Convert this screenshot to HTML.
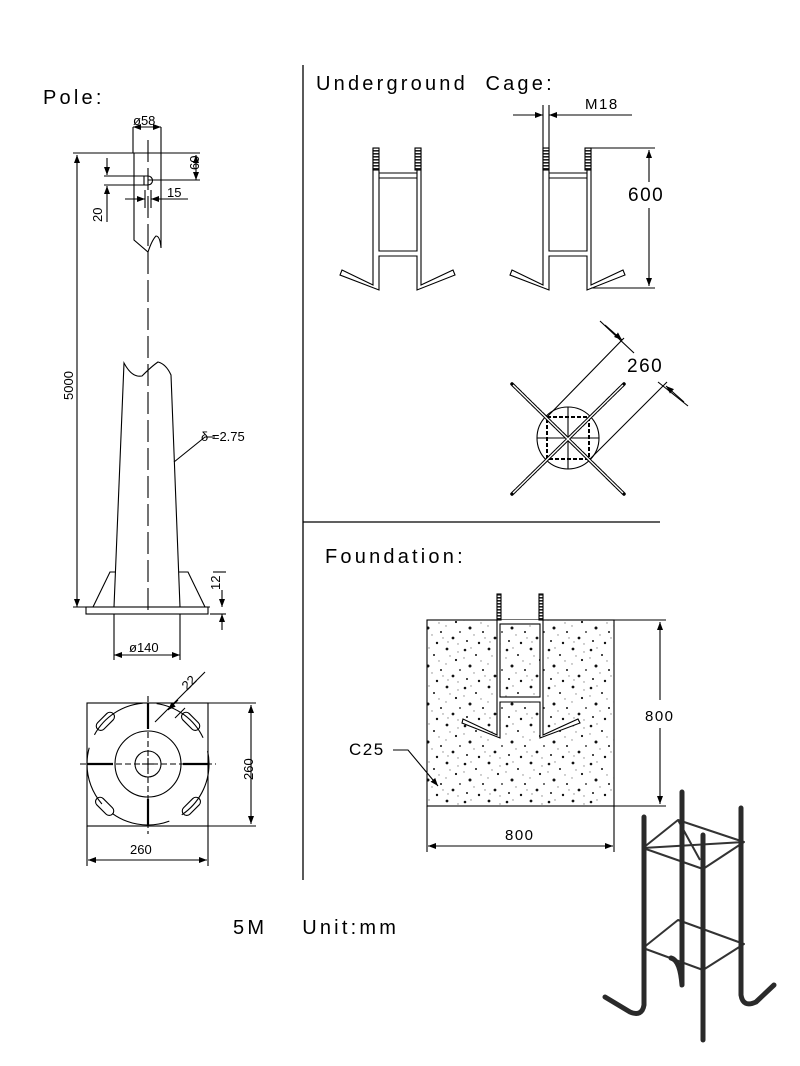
<!DOCTYPE html>
<html><head><meta charset="utf-8"><style>html,body{margin:0;padding:0;background:#fff}svg{display:block}</style></head>
<body>
<svg width="800" height="1066" viewBox="0 0 800 1066" xmlns="http://www.w3.org/2000/svg" font-family="Liberation Sans, sans-serif">
<defs>
<pattern id="conc" width="42" height="38" patternUnits="userSpaceOnUse">
<g fill="#111">
<circle cx="3" cy="4" r="1.3"/><circle cx="14" cy="9" r="1"/><circle cx="27" cy="3" r="1.4"/><circle cx="36" cy="14" r="1.1"/><circle cx="8" cy="20" r="1.5"/><circle cx="21" cy="24" r="1"/><circle cx="33" cy="30" r="1.4"/><circle cx="5" cy="33" r="1"/><circle cx="17" cy="35" r="1.2"/><circle cx="40" cy="24" r="0.9"/>
</g>
<g fill="#888">
<circle cx="9" cy="2" r="0.7"/><circle cx="19" cy="15" r="0.7"/><circle cx="30" cy="10" r="0.7"/><circle cx="2" cy="12" r="0.7"/><circle cx="12" cy="27" r="0.7"/><circle cx="26" cy="18" r="0.7"/><circle cx="38" cy="6" r="0.7"/><circle cx="28" cy="34" r="0.7"/><circle cx="38" cy="36" r="0.7"/><circle cx="23" cy="30" r="0.7"/>
</g>
</pattern>
<pattern id="thr" width="6" height="3" patternUnits="userSpaceOnUse">
<rect width="6" height="3" fill="#fff"/><rect width="6" height="1.6" fill="#222"/>
</pattern>
<marker id="ar" markerWidth="8" markerHeight="6" refX="8" refY="3" orient="auto" markerUnits="userSpaceOnUse"><path d="M0,0 L8,3 L0,6z" fill="#000"/></marker>
<marker id="al" markerWidth="8" markerHeight="6" refX="0" refY="3" orient="auto" markerUnits="userSpaceOnUse"><path d="M8,0 L0,3 L8,6z" fill="#000"/></marker>
</defs>
<g stroke="#000" fill="none" stroke-width="1.1">
<line x1="303" y1="65" x2="303" y2="880" stroke-width="1.3"/>
<line x1="303" y1="522" x2="660" y2="522" stroke-width="1.3"/>

<!-- POLE -->
<line x1="148" y1="140" x2="148" y2="615" stroke-dasharray="22,6"/>
<path d="M134,153 L134,240 L148,252 Q152,240 156,236 Q160,236 161,248 L161,153"/>
<line x1="73" y1="153" x2="200" y2="153"/>
<line x1="133" y1="127" x2="133" y2="153"/><line x1="161" y1="127" x2="161" y2="153"/>
<line x1="133" y1="127" x2="161" y2="127" marker-start="url(#al)" marker-end="url(#ar)"/>
<line x1="77" y1="155" x2="77" y2="607" marker-start="url(#al)" marker-end="url(#ar)"/>
<line x1="104" y1="176" x2="148" y2="176"/><line x1="104" y1="185" x2="148" y2="185"/>
<path d="M144,176 L148,176 A4.5,4.5 0 0 1 148,185 L144,185z"/>
<line x1="148" y1="180" x2="200" y2="180"/>
<line x1="196" y1="155" x2="196" y2="180" marker-start="url(#al)" marker-end="url(#ar)"/>
<line x1="107" y1="158" x2="107" y2="175" marker-end="url(#ar)"/>
<line x1="107" y1="186" x2="107" y2="222" marker-start="url(#al)"/>
<line x1="125" y1="199" x2="145" y2="199" marker-end="url(#ar)"/>
<line x1="151" y1="199" x2="188" y2="199" marker-start="url(#al)"/>
<line x1="145" y1="190" x2="145" y2="208"/><line x1="151" y1="190" x2="151" y2="208"/>
<path d="M114,607 L124,363 Q132,378 142,376 Q152,366 158,362 Q166,364 171,375 L180,607"/>
<path d="M93,607 L110,572 L116,572"/><path d="M205,607 L188,572 L179,572"/>
<line x1="73" y1="607" x2="210" y2="607"/>
<rect x="86" y="607" width="122" height="7"/>
<line x1="114" y1="614" x2="114" y2="660"/><line x1="180" y1="614" x2="180" y2="660"/>
<line x1="114" y1="655" x2="180" y2="655" marker-start="url(#al)" marker-end="url(#ar)"/>
<path d="M174,462 L205,437 L215,437"/>
<line x1="213" y1="572" x2="226" y2="572"/><line x1="210" y1="614" x2="226" y2="614"/>
<line x1="222" y1="590" x2="222" y2="607" marker-end="url(#ar)"/>
<line x1="222" y1="614" x2="222" y2="630" marker-start="url(#al)"/>

<!-- base top view -->
<rect x="87" y="703" width="121" height="123"/>
<circle cx="148" cy="764" r="13"/><circle cx="148" cy="764" r="33"/>
<circle cx="148" cy="764" r="61" stroke-dasharray="60,14"/>
<line x1="142" y1="764" x2="154" y2="764"/><line x1="148" y1="758" x2="148" y2="770"/>
<g stroke-width="2.2">
<line x1="148" y1="703" x2="148" y2="729"/><line x1="148" y1="799" x2="148" y2="826"/>
<line x1="87" y1="764" x2="113" y2="764"/><line x1="183" y1="764" x2="208" y2="764"/>
</g>
<g stroke-dasharray="6,3"><line x1="148" y1="696" x2="148" y2="834"/><line x1="80" y1="764" x2="216" y2="764"/></g>
<rect x="94" y="717" width="22" height="9" rx="4.5" transform="rotate(-45 105 721)"/>
<rect x="180" y="717" width="22" height="9" rx="4.5" transform="rotate(45 191 721)"/>
<rect x="94" y="802" width="22" height="9" rx="4.5" transform="rotate(45 105 806)"/>
<rect x="180" y="802" width="22" height="9" rx="4.5" transform="rotate(-45 191 806)"/>
<line x1="155" y1="722" x2="205" y2="672"/>
<line x1="168" y1="710" x2="178" y2="700" marker-start="url(#al)"/>
<line x1="175" y1="718" x2="185" y2="708"/>
<line x1="208" y1="703" x2="256" y2="703"/><line x1="208" y1="826" x2="256" y2="826"/>
<line x1="251" y1="705" x2="251" y2="824" marker-start="url(#al)" marker-end="url(#ar)"/>
<line x1="87" y1="826" x2="87" y2="866"/><line x1="208" y1="826" x2="208" y2="866"/>
<line x1="88" y1="860" x2="207" y2="860" marker-start="url(#al)" marker-end="url(#ar)"/>

<!-- CAGE left -->
<path d="M373,148 L373,285 L342,270 L340,275 L379,290 L379,256 L417,256 L417,290 L455,275 L453,270 L421,285 L421,148"/>
<path d="M379,170 L379,251 L417,251 L417,170"/>
<line x1="379" y1="173" x2="417" y2="173"/><line x1="379" y1="178" x2="417" y2="178"/>
<line x1="379" y1="251" x2="417" y2="251"/>
<rect x="373" y="148" width="6" height="22" fill="url(#thr)"/>
<rect x="415" y="148" width="6" height="22" fill="url(#thr)"/>
<!-- CAGE right -->
<path d="M543,105 L543,285 L512,270 L510,275 L549,290 L549,256 L587,256 L587,290 L625,275 L623,270 L591,285 L591,148"/>
<path d="M549,105 L549,251 L587,251 L587,170"/>
<line x1="549" y1="173" x2="587" y2="173"/><line x1="549" y1="178" x2="587" y2="178"/>
<rect x="543" y="148" width="6" height="22" fill="url(#thr)"/>
<rect x="585" y="148" width="6" height="22" fill="url(#thr)"/>
<line x1="513" y1="115" x2="543" y2="115" marker-end="url(#ar)"/>
<line x1="549" y1="115" x2="632" y2="115" marker-start="url(#al)"/>
<line x1="591" y1="148" x2="655" y2="148"/><line x1="591" y1="288" x2="655" y2="288"/>
<line x1="649" y1="150" x2="649" y2="182" marker-start="url(#al)"/>
<line x1="649" y1="208" x2="649" y2="286" marker-end="url(#ar)"/>

<!-- cage top view -->
<circle cx="568" cy="438" r="31"/>
<line x1="568" y1="407" x2="568" y2="469"/><line x1="537" y1="438" x2="599" y2="438"/>
<rect x="547" y="417" width="42" height="42" stroke-dasharray="4,2" stroke-width="2"/>
<g stroke-dasharray="5,2" stroke-width="3.5" stroke-linecap="round">
<line x1="512" y1="384" x2="624" y2="494"/><line x1="512" y1="494" x2="624" y2="384"/>
</g>
<g stroke="#fff" stroke-width="1.4">
<line x1="513" y1="385" x2="623" y2="493"/><line x1="513" y1="493" x2="623" y2="385"/>
</g>
<line x1="547" y1="417" x2="624" y2="338"/><line x1="590" y1="459" x2="667" y2="382"/>
<line x1="600" y1="321" x2="634" y2="353"/><line x1="658" y1="382" x2="688" y2="406"/>
<line x1="605" y1="325" x2="622" y2="340" marker-end="url(#ar)"/>
<line x1="666" y1="386" x2="684" y2="402" marker-start="url(#al)"/>

<!-- FOUNDATION -->
<rect x="427" y="620" width="187" height="186" fill="url(#conc)"/>
<path d="M497,620 L497,735 L463,719 L462,723 L500,738 L500,702 L540,702 L540,738 L580,723 L578,719 L543,735 L543,620" fill="#fff"/>
<rect x="500" y="624" width="40" height="73" fill="url(#conc)"/>
<rect x="497" y="594" width="4" height="26" fill="url(#thr)"/>
<rect x="539" y="594" width="4" height="26" fill="url(#thr)"/>
<line x1="614" y1="620" x2="666" y2="620"/><line x1="614" y1="806" x2="666" y2="806"/>
<line x1="660" y1="622" x2="660" y2="700" marker-start="url(#al)"/>
<line x1="660" y1="728" x2="660" y2="804" marker-end="url(#ar)"/>
<line x1="427" y1="806" x2="427" y2="852"/><line x1="614" y1="806" x2="614" y2="852"/>
<line x1="428" y1="846" x2="613" y2="846" marker-start="url(#al)" marker-end="url(#ar)"/>
<path d="M393,750 L408,750 L438,786" marker-end="url(#ar)"/>

<!-- 3D cage -->
<g stroke="#333" stroke-width="2" stroke-linejoin="round">
<path d="M643,848 L678,820 L744,842 L703,869z"/>
<path d="M643,948 L678,920 L744,944 L703,970z"/>
<line x1="678" y1="820" x2="700" y2="860"/>
<line x1="643" y1="848" x2="744" y2="842"/>
</g>
<g stroke="#2a2a2a" stroke-width="5" stroke-linecap="round" stroke-linejoin="round">
<path d="M682,792 L682,985 Q680,960 671,958"/>
<path d="M644,817 L644,1005 Q642,1017 630,1012 L605,997"/>
<path d="M741,808 L741,995 Q743,1008 756,1002 L774,985"/>
<path d="M703,835 L703,1040"/>
</g>
</g>
<g fill="#000" font-size="20" letter-spacing="3.2">
<text x="43" y="104">Pole:</text>
<text x="316" y="90" xml:space="preserve">Underground  Cage:</text>
<text x="325" y="563">Foundation:</text>
<text x="233" y="934" xml:space="preserve">5M    Unit:mm</text>
</g>
<g fill="#000" font-size="13">
<text x="133" y="125">ø58</text>
<text x="167" y="197">15</text>
<text x="201" y="441">δ =2.75</text>
<text x="129" y="652">ø140</text>
<text x="130" y="854">260</text>
<text transform="translate(199,170) rotate(-90)">60</text>
<text transform="translate(102,222) rotate(-90)">20</text>
<text transform="translate(73,400) rotate(-90)">5000</text>
<text transform="translate(220,590) rotate(-90)">12</text>
<text transform="translate(253,780) rotate(-90)">260</text>
<text transform="translate(187,691) rotate(-45)">22</text>
</g>
<g fill="#000" font-size="17" letter-spacing="1.5">
<text x="585" y="109" font-size="15">M18</text>
<text x="628" y="201" font-size="19">600</text>
<text x="627" y="372" font-size="19">260</text>
<text x="645" y="721" font-size="15">800</text>
<text x="505" y="840" font-size="15">800</text>
<text x="349" y="755">C25</text>
</g>
</svg>
</body></html>
